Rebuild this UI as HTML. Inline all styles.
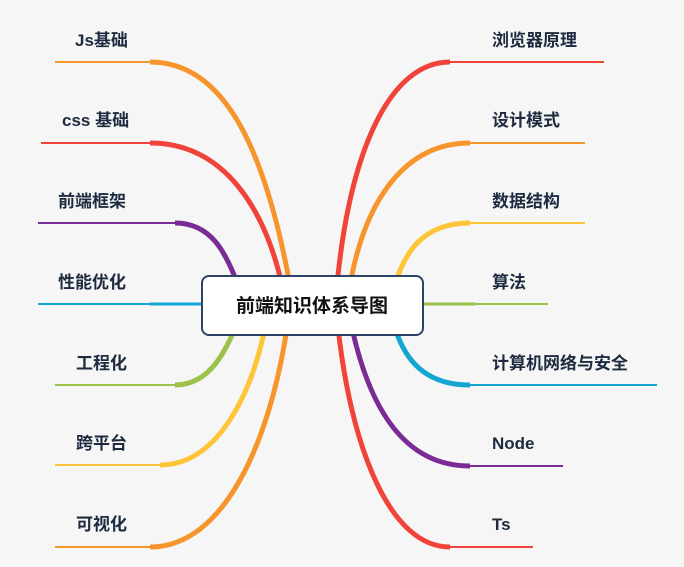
<!DOCTYPE html>
<html><head><meta charset="utf-8"><style>
html,body{margin:0;padding:0;background:#f6f6f6;}
svg{display:block;}
text{font-family:"Liberation Sans","Noto Sans CJK SC",sans-serif;font-weight:bold;font-size:17px;fill:#1d2a3f;}
</style></head><body>
<svg width="684" height="567" viewBox="0 0 684 567" xmlns="http://www.w3.org/2000/svg">
<g fill="none" stroke-linecap="butt">
<!-- left -->
<path d="M55,62 H150" stroke="#f7952d" stroke-width="2"/>
<path d="M150,62 C225,62 265,150 290,285" stroke="#f7952d" stroke-width="5"/>
<path d="M41,143 H150" stroke="#f0443a" stroke-width="2"/>
<path d="M150,143 C225,143 265,210 282,285" stroke="#f0443a" stroke-width="5"/>
<path d="M38,223 H175" stroke="#7b2b95" stroke-width="2"/>
<path d="M175,223 C210,223 225,250 238,285" stroke="#7b2b95" stroke-width="5"/>
<path d="M38,304 H205" stroke="#13a6d1" stroke-width="2"/>
<path d="M150,304 H205" stroke="#13a6d1" stroke-width="3"/>
<path d="M55,385 H175" stroke="#9bc24a" stroke-width="2"/>
<path d="M175,385 C205,385 222,360 235,328" stroke="#9bc24a" stroke-width="5"/>
<path d="M55,465 H160" stroke="#fdc537" stroke-width="2"/>
<path d="M160,465 C215,465 250,400 265,328" stroke="#fdc537" stroke-width="5"/>
<path d="M55,547 H150" stroke="#f7952d" stroke-width="2"/>
<path d="M150,547 C225,547 270,440 287,328" stroke="#f7952d" stroke-width="5"/>
<!-- right -->
<path d="M450,62 H604" stroke="#f0443a" stroke-width="2"/>
<path d="M450,62 C390,62 350,150 337,285" stroke="#f0443a" stroke-width="5"/>
<path d="M470,143 H585" stroke="#f7952d" stroke-width="2"/>
<path d="M470,143 C405,143 365,200 350,285" stroke="#f7952d" stroke-width="5"/>
<path d="M470,223 H585" stroke="#fdc537" stroke-width="2"/>
<path d="M470,223 C425,223 405,250 395,285" stroke="#fdc537" stroke-width="5"/>
<path d="M420,304 H548" stroke="#9bc24a" stroke-width="2"/>
<path d="M420,304 H475" stroke="#9bc24a" stroke-width="3"/>
<path d="M470,385 H657" stroke="#13a6d1" stroke-width="2"/>
<path d="M470,385 C425,385 405,360 395,328" stroke="#13a6d1" stroke-width="5"/>
<path d="M470,466 H563" stroke="#7b2b95" stroke-width="2"/>
<path d="M470,466 C405,466 370,410 352,328" stroke="#7b2b95" stroke-width="5"/>
<path d="M450,547 H533" stroke="#f0443a" stroke-width="2"/>
<path d="M450,547 C390,547 352,450 338,328" stroke="#f0443a" stroke-width="5"/>
</g>
<rect x="202" y="276" width="221" height="59" rx="7" fill="#fff" stroke="#2d4266" stroke-width="2"/>
<text x="312" y="312" text-anchor="middle" style="font-size:19px;fill:#111">前端知识体系导图</text>
<text x="75" y="46">Js基础</text>
<text x="62" y="126">css 基础</text>
<text x="58" y="207">前端框架</text>
<text x="58" y="288">性能优化</text>
<text x="76" y="369">工程化</text>
<text x="76" y="449">跨平台</text>
<text x="76" y="530">可视化</text>
<text x="492" y="46">浏览器原理</text>
<text x="492" y="126">设计模式</text>
<text x="492" y="207">数据结构</text>
<text x="492" y="288">算法</text>
<text x="492" y="369">计算机网络与安全</text>
<text x="492" y="449">Node</text>
<text x="492" y="530">Ts</text>
</svg>
</body></html>
